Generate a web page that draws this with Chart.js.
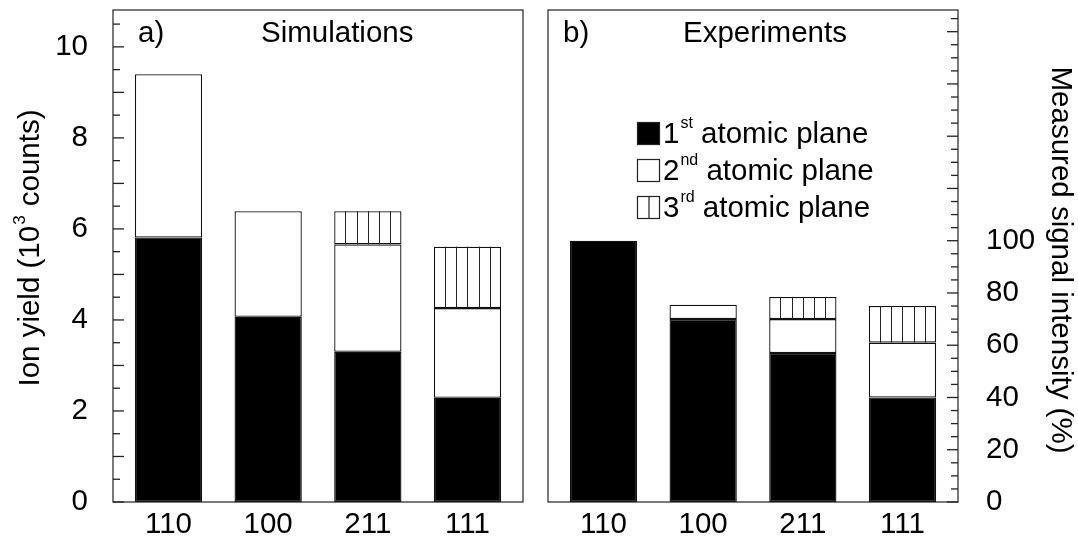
<!DOCTYPE html>
<html>
<head>
<meta charset="utf-8">
<script src="https://cdn.jsdelivr.net/npm/chart.js@4.4.0/dist/chart.umd.min.js"></script>
<style>
html, body { margin: 0; padding: 0; background: #fff; }
#wrap { position: relative; width: 1078px; height: 538px; }
canvas { position: absolute; top: 0; }
</style>
</head>
<body>
<div id="wrap">
    <canvas id="graficoSim" width="540" height="538" style="left:0"></canvas>
    <canvas id="graficoExp" width="538" height="538" style="left:540px"></canvas>
</div>
<script>
const planos = ["110", "100", "211", "111"];

// a) simulacoes (10^3 counts), um segmento por plano atomico
const simPlano1 = [5.81, 4.07, 3.30, 2.29];
const simPlano2 = [3.59, 2.32, 2.36, 1.97];
const simPlano3 = [0, 0, 0.73, 1.35];

// b) experimentos (%), um segmento por plano atomico
const expPlano1 = [100, 70, 57, 40];
const expPlano2 = [0, 5.5, 13, 21];
const expPlano3 = [0, 0, 8.5, 14];

const simTicksY = [0, 2, 4, 6, 8, 10];
const expTicksY = [0, 20, 40, 60, 80, 100];

const legendaNum = ["1", "2", "3"];
const legendaSup = ["st", "nd", "rd"];

const FONTE = "'Liberation Sans', Arial, Helvetica, sans-serif";
const TAM = 29.5;
Chart.defaults.font.family = FONTE;
Chart.defaults.color = "#000";

function pontos(arr) {
    return arr.map((v, i) => ({ x: i, y: v }));
}

function datasets(p1, p2, p3) {
    const base = { borderColor: "#111", borderWidth: 1.3, borderSkipped: false,
                   categoryPercentage: 1, barPercentage: 0.675 };
    return [
        Object.assign({ label: "1", data: pontos(p1), backgroundColor: "#000" }, base),
        Object.assign({ label: "2", data: pontos(p2), backgroundColor: "#fff" }, base),
        Object.assign({ label: "3", data: pontos(p3), backgroundColor: "#fff" }, base)
    ];
}

function eixoX() {
    return {
        type: "linear", stacked: true, min: -0.557, max: 3.557, offset: false,
        grid: { display: false, offset: false }, border: { display: false },
        afterBuildTicks: s => { s.ticks = planos.map((p, i) => ({ value: i })); },
        afterFit: s => { s.height = 36; s.paddingLeft = 0; s.paddingRight = 0; },
        ticks: { autoSkip: false, maxRotation: 0, padding: -3, font: { size: TAM },
                 callback: v => planos[v] }
    };
}

// hachura vertical do 3o plano + moldura + ticks para dentro + textos
const painelPlugin = {
    id: "painel",
    afterDatasetsDraw(chart) {
        const ctx = chart.ctx;
        const meta = chart.getDatasetMeta(2);
        ctx.save();
        ctx.strokeStyle = "#222";
        ctx.lineWidth = 1;
        meta.data.forEach(bar => {
            const p = bar.getProps(["x", "y", "base", "width"], true);
            if (Math.abs(p.base - p.y) < 1) return;
            const esq = p.x - p.width / 2;
            for (let k = 1; k < 6; k++) {
                const xx = Math.round(esq + k * p.width / 6) + 0.5;
                ctx.beginPath();
                ctx.moveTo(xx, p.y);
                ctx.lineTo(xx, p.base);
                ctx.stroke();
            }
        });
        ctx.restore();
    },
    afterDraw(chart) {
        const ctx = chart.ctx;
        const a = chart.chartArea;
        const cfg = chart.options.plugins.painel;
        ctx.save();
        ctx.strokeStyle = "#222";
        ctx.lineWidth = 1.2;
        ctx.strokeRect(a.left, a.top, a.right - a.left, a.bottom - a.top);

        // ticks para dentro
        const sy = chart.scales.y;
        ctx.lineWidth = 1.3;
        for (let v = 0; v <= sy.max; v += cfg.passoMenor) {
            const yy = sy.getPixelForValue(v);
            const maior = Math.abs(v / cfg.passoMaior - Math.round(v / cfg.passoMaior)) < 1e-6;
            const len = maior ? 11 : 7;
            ctx.beginPath();
            if (cfg.lado === "esq") {
                ctx.moveTo(a.left, yy); ctx.lineTo(a.left + len, yy);
            } else {
                ctx.moveTo(a.right, yy); ctx.lineTo(a.right - len, yy);
            }
            ctx.stroke();
        }

        // titulos do painel
        ctx.fillStyle = "#000";
        ctx.font = TAM + "px " + FONTE;
        ctx.textBaseline = "alphabetic";
        ctx.textAlign = "left";
        ctx.fillText(cfg.letra, a.left + cfg.xLetra, 42);
        ctx.fillText(cfg.titulo, a.left + cfg.xTitulo, 42);
        ctx.restore();
    }
};

function eixoY(max, ticksY, lado, largura, pad) {
    return {
        stacked: true, min: 0, max: max, position: lado,
        grid: { display: false }, border: { display: false },
        afterBuildTicks: s => { s.ticks = ticksY.map(v => ({ value: v })); },
        afterFit: s => { s.width = largura; s.paddingTop = 0; s.paddingBottom = 0; },
        ticks: { padding: pad, font: { size: TAM } }
    };
}

// grafico a)
new Chart(document.getElementById("graficoSim"), {
    type: "bar",
    data: { datasets: datasets(simPlano1, simPlano2, simPlano3) },
    plugins: [painelPlugin, {
        id: "tituloEsq",
        afterDraw(chart) {
            const ctx = chart.ctx;
            ctx.save();
            ctx.translate(31, 248);
            ctx.rotate(-Math.PI / 2);
            ctx.fillStyle = "#000";
            ctx.textBaseline = "middle";
            const t1 = "Ion yield (10", t2 = "3", t3 = " counts)";
            ctx.font = TAM + "px " + FONTE;
            const w1 = ctx.measureText(t1).width, w3 = ctx.measureText(t3).width;
            ctx.font = "17px " + FONTE;
            const w2 = ctx.measureText(t2).width + 2;
            const x0 = -(w1 + w2 + w3) / 2;
            ctx.font = TAM + "px " + FONTE;
            ctx.textAlign = "left";
            ctx.fillText(t1, x0, 0);
            ctx.fillText(t3, x0 + w1 + w2, 0);
            ctx.font = "17px " + FONTE;
            ctx.fillText(t2, x0 + w1 + 1, -11);
            ctx.restore();
        }
    }],
    options: {
        responsive: false,
        animation: false,
        layout: { padding: { left: 0, right: 17, top: 10, bottom: 0 } },
        plugins: {
            legend: { display: false },
            tooltip: { enabled: false },
            painel: { lado: "esq", passoMenor: 0.5, passoMaior: 1,
                      letra: "a)", xLetra: 25, titulo: "Simulations", xTitulo: 148 }
        },
        scales: {
            x: eixoX(),
            y: eixoY(10.81, simTicksY, "left", 113, 17)
        }
    }
});

// grafico b)
new Chart(document.getElementById("graficoExp"), {
    type: "bar",
    data: { datasets: datasets(expPlano1, expPlano2, expPlano3) },
    plugins: [painelPlugin, {
        id: "legendaDir",
        afterDraw(chart) {
            const ctx = chart.ctx;
            const a = chart.chartArea;
            ctx.save();
            ctx.strokeStyle = "#222";
            ctx.lineWidth = 1.2;
            const bx = a.left + 89;
            const linhas = [133, 170, 207];
            linhas.forEach((cy, i) => {
                const top = cy - 11;
                ctx.fillStyle = i === 0 ? "#000" : "#fff";
                ctx.fillRect(bx, top, 23, 23);
                ctx.strokeRect(bx + 0.5, top + 0.5, 22, 22);
                if (i === 2) {
                    ctx.beginPath();
                    ctx.moveTo(bx + 12, top);
                    ctx.lineTo(bx + 12, top + 23);
                    ctx.stroke();
                }
                ctx.fillStyle = "#000";
                ctx.textAlign = "left";
                ctx.textBaseline = "alphabetic";
                ctx.font = TAM + "px " + FONTE;
                const base = cy + 10;
                let x = bx + 26;
                ctx.fillText(legendaNum[i], x, base);
                x += ctx.measureText(legendaNum[i]).width + 1;
                ctx.font = "16px " + FONTE;
                ctx.fillText(legendaSup[i], x, base - 15);
                x += ctx.measureText(legendaSup[i]).width;
                ctx.font = TAM + "px " + FONTE;
                ctx.fillText(" atomic plane", x, base);
            });

            // titulo do eixo direito
            ctx.translate(1060 - 540, 260);
            ctx.rotate(Math.PI / 2);
            ctx.textAlign = "center";
            ctx.textBaseline = "middle";
            ctx.font = TAM + "px " + FONTE;
            ctx.fillText("Measured signal intensity (%)", 0, 0);
            ctx.restore();
        }
    }],
    options: {
        responsive: false,
        animation: false,
        layout: { padding: { left: 8, right: 0, top: 10, bottom: 0 } },
        plugins: {
            legend: { display: false },
            tooltip: { enabled: false },
            painel: { lado: "dir", passoMenor: 5, passoMaior: 20,
                      letra: "b)", xLetra: 15, titulo: "Experiments", xTitulo: 135 }
        },
        scales: {
            x: eixoX(),
            y: eixoY(188.3, expTicksY, "right", 120, 20)
        }
    }
});
</script>
</body>
</html>
